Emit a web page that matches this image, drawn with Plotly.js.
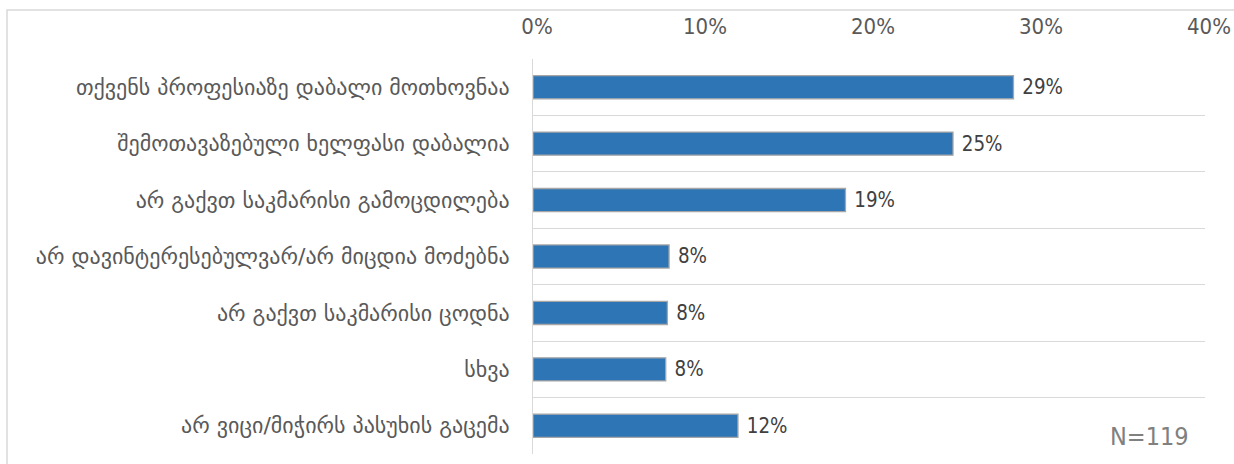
<!DOCTYPE html>
<html>
<head>
<meta charset="utf-8">
<script src="https://cdn.plot.ly/plotly-3.0.1.min.js"></script>
<style>
  html, body { margin: 0; padding: 0; background: #fff; }
  #chart { width: 1234px; height: 464px; }
</style>
</head>
<body>
<div id="chart"></div>
<script>
const categories = [
  "თქვენს პროფესიაზე დაბალი მოთხოვნაა",
  "შემოთავაზებული ხელფასი დაბალია",
  "არ გაქვთ საკმარისი გამოცდილება",
  "არ დავინტერესებულვარ/არ მიცდია მოძებნა",
  "არ გაქვთ საკმარისი ცოდნა",
  "სხვა",
  "არ ვიცი/მიჭირს პასუხის გაცემა"
];
const values = [28.6, 25.0, 18.6, 8.1, 8.0, 7.9, 12.2];
const valueLabels = ["29%", "25%", "19%", "8%", "8%", "8%", "12%"];
const tickVals = [0, 10, 20, 30, 40];
const tickText = ["0%", "10%", "20%", "30%", "40%"];
const sampleNote = "N=119";

const L = 533, R = 1205, T = 59, B = 454;
const px = x => (x - L) / (R - L);
const py = y => (B - y) / (B - T);
const NUMFONT = "'Liberation Sans Narrow', 'DejaVu Sans Condensed', sans-serif";

const trace = {
  type: "bar",
  orientation: "h",
  x: values,
  y: categories,
  text: valueLabels,
  texttemplate: " %{text}",
  textposition: "outside",
  cliponaxis: false,
  textfont: { family: NUMFONT, size: 22, color: "#404040" },
  marker: { color: "#2E75B6", line: { color: "#A6A6A6", width: 1.3 } },
  hoverinfo: "none"
};

const layout = {
  width: 1234,
  height: 464,
  margin: { l: L, r: 1234 - R, t: T, b: 464 - B, pad: 0 },
  paper_bgcolor: "#ffffff",
  plot_bgcolor: "#ffffff",
  showlegend: false,
  bargap: 0.59,
  font: { family: "'DejaVu Sans', sans-serif", color: "#595959" },
  xaxis: {
    side: "top",
    range: [0, 40],
    tickvals: tickVals,
    ticktext: tickText,
    showgrid: false,
    zeroline: false,
    showline: false,
    ticks: "",
    ticklabelstandoff: 20,
    ticklabelshift: 4,
    tickfont: { family: NUMFONT, size: 22, color: "#595959" },
    fixedrange: true
  },
  yaxis: {
    autorange: "reversed",
    type: "category",
    tickson: "boundaries",
    showgrid: true,
    gridcolor: "#D9D9D9",
    gridwidth: 1,
    showline: true,
    linecolor: "#D9D9D9",
    linewidth: 1,
    ticks: "",
    ticklabelstandoff: 18,
    tickfont: { family: "'DejaVu Sans', sans-serif", size: 22, color: "#595959" },
    fixedrange: true
  },
  shapes: [
    {
      type: "rect", xref: "paper", yref: "paper",
      x0: px(7), x1: px(1250), y0: py(10), y1: py(480),
      line: { color: "#D9D9D9", width: 1.5 }, fillcolor: "rgba(0,0,0,0)", layer: "below"
    }
  ],
  annotations: [
    {
      text: sampleNote, xref: "paper", yref: "paper",
      x: px(1191), y: py(436), xanchor: "right", yanchor: "middle",
      showarrow: false,
      font: { family: NUMFONT, size: 25, color: "#808080" }
    }
  ]
};

Plotly.newPlot("chart", [trace], layout, { displayModeBar: false, staticPlot: true });
</script>
</body>
</html>
